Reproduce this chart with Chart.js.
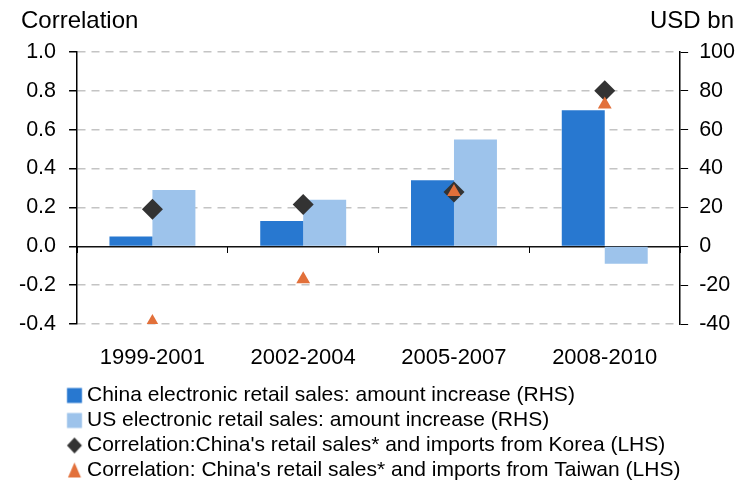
<!DOCTYPE html>
<html>
<head>
<meta charset="utf-8">
<script src="https://cdn.jsdelivr.net/npm/chart.js@4/dist/chart.umd.min.js"></script>
<style>
  body { margin: 0; background: #fff; }
  canvas { display: block; }
</style>
</head>
<body>
<canvas id="chart" width="748" height="483"></canvas>
<script>
// periods on the x axis
const periods = ['1999-2001', '2002-2004', '2005-2007', '2008-2010'];

// USD bn (right axis)
const chinaSales = [5, 13, 34, 70];
const usSales = [29, 24, 55, -9];

// correlations (left axis)
const corrKorea = [0.19, 0.215, 0.28, 0.80];
const corrTaiwan = [-0.39, -0.17, 0.28, 0.73];

const FONT = '"Liberation Sans", Arial, sans-serif';
const DARK_BLUE = '#2878D0';
const LIGHT_BLUE = '#9DC3EB';
const DIAMOND = '#333333';
const ORANGE = '#E2703A';

// legend icons: the marker sits near the right end of a wider canvas
function legendIcon(shape, color) {
    const c = document.createElement('canvas');
    c.width = 80;
    c.height = 18;
    const g = c.getContext('2d');
    g.fillStyle = color;
    const cx = 71.25, cy = 9;
    g.beginPath();
    if (shape === 'square') {
        g.rect(cx - 7.5, 1.5, 15, 15);
    } else if (shape === 'diamond') {
        g.moveTo(cx, cy - 8);
        g.lineTo(cx + 7.5, cy);
        g.lineTo(cx, cy + 8);
        g.lineTo(cx - 7.5, cy);
    } else {
        g.moveTo(cx, cy - 8);
        g.lineTo(cx + 6.5, cy + 7);
        g.lineTo(cx - 6.5, cy + 7);
    }
    g.closePath();
    g.fill();
    return c;
}

// axis titles on top of the two y axes
const axisTitles = {
    id: 'axisTitles',
    afterDraw(chart) {
        const ctx = chart.ctx;
        ctx.save();
        ctx.fillStyle = '#000';
        ctx.font = '24px ' + FONT;
        ctx.textBaseline = 'middle';
        ctx.textAlign = 'left';
        ctx.fillText('Correlation', 21, 21);
        ctx.textAlign = 'right';
        ctx.fillText('USD bn', 734, 21);
        ctx.restore();
    }
};

const isZero = c => c.tick && Math.abs(c.tick.value) < 1e-9;

new Chart(document.getElementById('chart').getContext('2d'), {
    type: 'bar',
    data: {
        labels: periods,
        datasets: [
            {
                label: 'China electronic retail sales: amount increase (RHS)',
                data: chinaSales,
                backgroundColor: DARK_BLUE,
                yAxisID: 'yR',
                order: 3,
                legendIcon: legendIcon('square', DARK_BLUE)
            },
            {
                label: 'US electronic retail sales: amount increase (RHS)',
                data: usSales,
                backgroundColor: LIGHT_BLUE,
                yAxisID: 'yR',
                order: 3,
                legendIcon: legendIcon('square', LIGHT_BLUE)
            },
            {
                type: 'line',
                label: "Correlation:China's retail sales* and imports from Korea (LHS)",
                data: corrKorea,
                yAxisID: 'y',
                showLine: false,
                pointStyle: 'rectRot',
                pointRadius: 10.5,
                pointHoverRadius: 10.5,
                backgroundColor: DIAMOND,
                borderColor: DIAMOND,
                borderWidth: 0,
                order: 1,
                legendIcon: legendIcon('diamond', DIAMOND)
            },
            {
                type: 'line',
                label: "Correlation: China's retail sales* and imports from Taiwan (LHS)",
                data: corrTaiwan,
                yAxisID: 'y',
                showLine: false,
                pointStyle: 'triangle',
                pointRadius: 8,
                pointHoverRadius: 8,
                backgroundColor: ORANGE,
                borderColor: ORANGE,
                borderWidth: 0,
                order: 0,
                legendIcon: legendIcon('triangle', ORANGE)
            }
        ]
    },
    options: {
        responsive: false,
        animation: false,
        datasets: {
            bar: { categoryPercentage: 0.57, barPercentage: 1.0 }
        },
        layout: { padding: { top: 52, left: 6, right: 2, bottom: -8 } },
        plugins: {
            tooltip: { enabled: false },
            legend: {
                position: 'bottom',
                align: 'start',
                labels: {
                    color: '#000',
                    font: { family: FONT, size: 21 },
                    usePointStyle: true,
                    pointStyleWidth: 66.5,
                    padding: 4,
                    generateLabels(chart) {
                        return chart.data.datasets.map((ds, i) => ({
                            text: ds.label,
                            fillStyle: ds.backgroundColor,
                            strokeStyle: ds.backgroundColor,
                            lineWidth: 0,
                            pointStyle: ds.legendIcon,
                            datasetIndex: i,
                            fontColor: '#000'
                        }));
                    }
                }
            }
        },
        scales: {
            x: {
                position: 'bottom',
                grid: { display: false, drawTicks: false },
                border: { display: false },
                ticks: { color: '#000', font: { family: FONT, size: 22 }, padding: 21 },
                // labels sit low, the legend follows closely under them
                afterFit(scale) { scale.height = 57; }
            },
            x2: {
                type: 'category',
                position: { y: 0 },
                offset: true,
                grid: {
                    offset: true,
                    drawOnChartArea: false,
                    tickLength: 7,
                    tickColor: '#000'
                },
                border: { display: false },
                ticks: { display: false }
            },
            y: {
                position: 'left',
                min: -0.4,
                max: 1.0,
                ticks: {
                    stepSize: 0.2,
                    color: '#000',
                    font: { family: FONT, size: 21.5 },
                    padding: 13,
                    callback: v => (Math.abs(v) < 1e-9 ? 0 : v).toFixed(1)
                },
                grid: {
                    color: c => isZero(c) ? '#111' : '#C4C4C4',
                    lineWidth: 1.5,
                    tickColor: '#000',
                    tickLength: 8
                },
                border: {
                    display: true,
                    color: '#000',
                    width: 1.5,
                    dash: c => (c.tick && !isZero(c)) ? [8, 6] : []
                }
            },
            yR: {
                position: 'right',
                min: -40,
                max: 100,
                ticks: {
                    stepSize: 20,
                    color: '#000',
                    font: { family: FONT, size: 21.5 },
                    padding: 11
                },
                grid: {
                    drawOnChartArea: false,
                    tickColor: '#000',
                    tickLength: 8
                },
                border: { display: true, color: '#000', width: 1.5 }
            }
        }
    },
    plugins: [axisTitles]
});
</script>
</body>
</html>
